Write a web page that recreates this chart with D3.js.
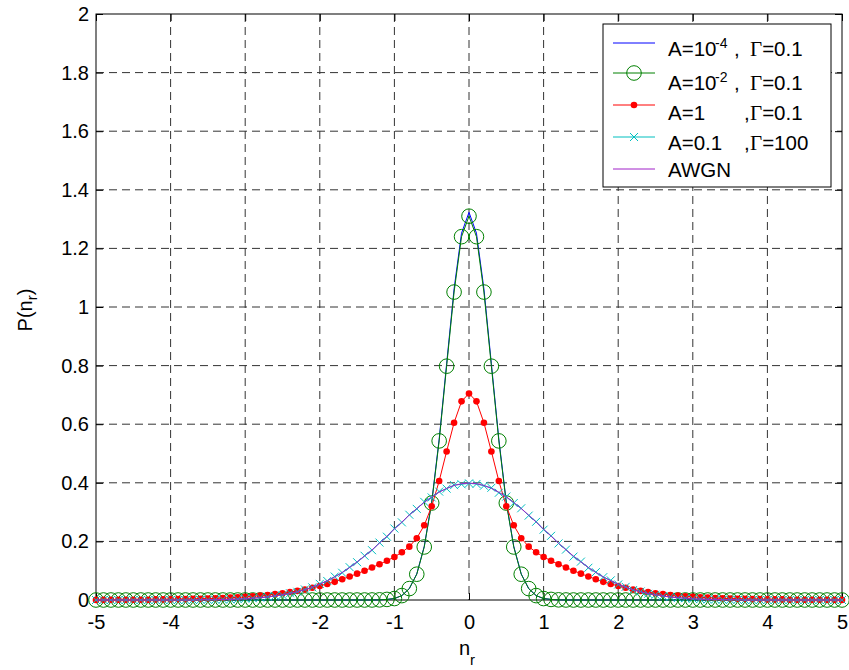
<!DOCTYPE html>
<html>
<head>
<meta charset="utf-8">
<script src="https://cdn.jsdelivr.net/npm/d3@7"></script>
<style>
  body { margin: 0; background: #fff; }
  svg { display: block; }
  text { font-family: "Liberation Sans", Arial, Helvetica, sans-serif; fill: #000; }
</style>
</head>
<body>
<svg id="chart" width="849" height="670"></svg>
<script>
// Sample positions n_r = -5 : 0.1 : 5
const nr = d3.range(-50, 51).map(i => i / 10);

// Middleton class-A noise pdf, A = 1e-4, Gamma = 0.1
const pdfA4 = [
  0,0,0,0,0,0,0,0,0,0,
  0,0,0,0,0,0,0,0,0,0,
  0,0,0,0,0,0,0,0,0,0,
  0,0,0,0,0,0,0,0.0001,0.0005,0.002,
  0.005,0.015,0.039,0.089,0.183,0.334,0.549,0.806,1.062,1.252,
  1.323,
  1.252,1.062,0.806,0.549,0.334,0.183,0.089,0.039,0.015,0.005,
  0.002,0.0005,0.0001,0,0,0,0,0,0,0,
  0,0,0,0,0,0,0,0,0,0,
  0,0,0,0,0,0,0,0,0,0,
  0,0,0,0,0,0,0,0,0,0
];

// A = 1e-2, Gamma = 0.1
const pdfA2 = [
  0,0,0,0,0,0,0,0,0,0,
  0,0,0,0,0,0,0,0,0,0,
  0,0,0,0,0,0,0,0,0,0,
  0,0,0,0,0,0,0,0.0001,0.0005,0.002,
  0.005,0.015,0.039,0.088,0.181,0.331,0.543,0.798,1.051,1.240,
  1.310,
  1.240,1.051,0.798,0.543,0.331,0.181,0.088,0.039,0.015,0.005,
  0.002,0.0005,0.0001,0,0,0,0,0,0,0,
  0,0,0,0,0,0,0,0,0,0,
  0,0,0,0,0,0,0,0,0,0,
  0,0,0,0,0,0,0,0,0,0
];

// A = 1, Gamma = 0.1
const pdfA1 = [
  0.0004,0.0005,0.001,0.001,0.001,0.001,0.001,0.001,0.002,0.002,
  0.002,0.003,0.003,0.004,0.004,0.005,0.006,0.007,0.008,0.009,
  0.011,0.013,0.015,0.017,0.020,0.023,0.027,0.031,0.036,0.042,
  0.048,0.055,0.062,0.071,0.080,0.090,0.100,0.111,0.122,0.134,
  0.147,0.163,0.182,0.211,0.255,0.320,0.406,0.507,0.605,0.678,
  0.705,
  0.678,0.605,0.507,0.406,0.320,0.255,0.211,0.182,0.163,0.147,
  0.134,0.122,0.111,0.100,0.090,0.080,0.071,0.062,0.055,0.048,
  0.042,0.036,0.031,0.027,0.023,0.020,0.017,0.015,0.013,0.011,
  0.009,0.008,0.007,0.006,0.005,0.004,0.004,0.003,0.003,0.002,
  0.002,0.002,0.001,0.001,0.001,0.001,0.001,0.001,0.0005,0.0004
];

// A = 0.1, Gamma = 100
const pdfG100 = [
  0,0,0,0,0,0,0,0,0,0,
  0,0,0,0,0.001,0.001,0.001,0.002,0.002,0.003,
  0.005,0.006,0.008,0.011,0.014,0.017,0.023,0.028,0.036,0.043,
  0.055,0.065,0.080,0.093,0.112,0.129,0.151,0.170,0.196,0.216,
  0.244,0.265,0.291,0.311,0.335,0.350,0.370,0.380,0.392,0.395,
  0.398,
  0.396,0.390,0.383,0.366,0.353,0.331,0.313,0.288,0.267,0.240,
  0.219,0.193,0.172,0.148,0.131,0.110,0.095,0.078,0.067,0.053,
  0.045,0.034,0.029,0.021,0.018,0.013,0.011,0.007,0.006,0.004,
  0.003,0.002,0.002,0.001,0.001,0.001,0,0,0,0,
  0,0,0,0,0,0,0,0,0,0
];

// Gaussian reference (AWGN)
const pdfAWGN = [
  0,0,0,0,0,0,0,0,0,0,
  0,0,0,0,0.001,0.001,0.001,0.002,0.002,0.003,
  0.004,0.006,0.008,0.010,0.014,0.018,0.022,0.028,0.035,0.044,
  0.054,0.066,0.079,0.094,0.111,0.130,0.150,0.171,0.194,0.218,
  0.242,0.266,0.290,0.312,0.333,0.352,0.368,0.381,0.391,0.397,
  0.399,
  0.397,0.391,0.381,0.368,0.352,0.333,0.312,0.290,0.266,0.242,
  0.218,0.194,0.171,0.150,0.130,0.111,0.094,0.079,0.066,0.054,
  0.044,0.035,0.028,0.022,0.018,0.014,0.010,0.008,0.006,0.004,
  0.003,0.002,0.002,0.001,0.001,0.001,0,0,0,0,
  0,0,0,0,0,0,0,0,0,0
];

const xTicks = [-5,-4,-3,-2,-1,0,1,2,3,4,5];
const xTickLabels = ["-5","-4","-3","-2","-1","0","1","2","3","4","5"];
const yTicks = [0,0.2,0.4,0.6,0.8,1,1.2,1.4,1.6,1.8,2];
const yTickLabels = ["0","0.2","0.4","0.6","0.8","1","1.2","1.4","1.6","1.8","2"];

const series = [
  { values: pdfA4,   color: "#0000ff", marker: null },
  { values: pdfA2,   color: "#008000", marker: "circle" },
  { values: pdfA1,   color: "#ff0000", marker: "dot" },
  { values: pdfG100, color: "#00bfbf", marker: "cross" },
  { values: pdfAWGN, color: "#a020c8", marker: null }
];

const svg = d3.select("#chart");
const box = { left: 96, right: 842, top: 14, bottom: 600 };

const x = d3.scaleLinear().domain([-5, 5]).range([box.left, box.right]);
const y = d3.scaleLinear().domain([0, 2]).range([box.bottom, box.top]);

// dashed grid
const grid = svg.append("g")
  .attr("stroke", "#333").attr("stroke-width", 1).attr("stroke-dasharray", "8,5");
grid.selectAll("line.gx").data(xTicks.slice(1, -1)).join("line")
  .attr("x1", d => x(d)).attr("x2", d => x(d))
  .attr("y1", box.top).attr("y2", box.bottom);
grid.selectAll("line.gy").data(yTicks.slice(1, -1)).join("line")
  .attr("x1", box.left).attr("x2", box.right)
  .attr("y1", d => y(d)).attr("y2", d => y(d));

// axes with inward ticks
function styleAxis(g) {
  g.select(".domain").remove();
  g.selectAll(".tick line").attr("stroke", "#000");
  g.selectAll(".tick text").attr("font-size", 20).attr("fill", "#000")
    .attr("font-family", "Liberation Sans, Arial, sans-serif");
}
svg.append("g").attr("transform", `translate(${box.left},0)`)
  .call(d3.axisLeft(y).tickValues(yTicks).tickSizeInner(-7).tickSizeOuter(0)
    .tickPadding(7).tickFormat((d, i) => yTickLabels[i]))
  .call(styleAxis);
svg.append("g").attr("transform", `translate(${box.right},0)`)
  .call(d3.axisRight(y).tickValues(yTicks).tickSizeInner(-7).tickSizeOuter(0).tickFormat(""))
  .call(styleAxis);
svg.append("g").attr("transform", `translate(0,${box.bottom})`)
  .call(d3.axisBottom(x).tickValues(xTicks).tickSizeInner(-7).tickSizeOuter(0)
    .tickPadding(15).tickFormat((d, i) => xTickLabels[i]))
  .call(styleAxis);
svg.append("g").attr("transform", `translate(0,${box.top})`)
  .call(d3.axisTop(x).tickValues(xTicks).tickSizeInner(-7).tickSizeOuter(0).tickFormat(""))
  .call(styleAxis);

svg.append("rect")
  .attr("x", box.left).attr("y", box.top)
  .attr("width", box.right - box.left).attr("height", box.bottom - box.top)
  .attr("fill", "none").attr("stroke", "#000").attr("stroke-width", 1);

// curves
const line = d3.line().x((d, i) => x(nr[i])).y(d => y(d));

function drawMarker(g, type, color, px, py) {
  if (type === "circle") {
    g.append("circle").attr("cx", px).attr("cy", py).attr("r", 7.3)
      .attr("fill", "none").attr("stroke", color).attr("stroke-width", 1);
  } else if (type === "dot") {
    g.append("circle").attr("cx", px).attr("cy", py).attr("r", 3.3).attr("fill", color);
  } else if (type === "cross") {
    const s = 4;
    g.append("path")
      .attr("d", `M${px - s},${py - s}L${px + s},${py + s}M${px - s},${py + s}L${px + s},${py - s}`)
      .attr("stroke", color).attr("stroke-width", 1).attr("fill", "none");
  }
}

series.forEach(s => {
  const g = svg.append("g");
  g.append("path").datum(s.values).attr("d", line)
    .attr("fill", "none").attr("stroke", s.color).attr("stroke-width", 1);
  if (s.marker) {
    s.values.forEach((v, i) => drawMarker(g, s.marker, s.color, x(nr[i]), y(v)));
  }
});

// axis labels
const xl = svg.append("text").attr("x", 467).attr("y", 655)
  .attr("text-anchor", "middle").attr("font-size", 20);
xl.append("tspan").text("n");
xl.append("tspan").attr("font-size", 15).attr("dy", 10).text("r");

const yl = svg.append("text").attr("transform", "translate(32,310) rotate(-90)")
  .attr("text-anchor", "middle").attr("font-size", 20);
yl.append("tspan").text("P(n");
yl.append("tspan").attr("font-size", 15).attr("dy", 5).text("r");
yl.append("tspan").attr("dy", -5).text(")");

// legend
const legend = svg.append("g");
legend.append("rect").attr("x", 603).attr("y", 24).attr("width", 228).attr("height", 163)
  .attr("fill", "#fff").attr("stroke", "#000").attr("stroke-width", 1);

const legendRows = [
  { ly: 43, ty: 56, main: "A=10", sup: "-4", commaX: 734, gammaX: 750, rest: "=0.1" },
  { ly: 73, ty: 90, main: "A=10", sup: "-2", commaX: 734, gammaX: 750, rest: "=0.1" },
  { ly: 105, ty: 119.5, main: "A=1", sup: null, commaX: 744, gammaX: 750, rest: "=0.1" },
  { ly: 137, ty: 149.5, main: "A=0.1", sup: null, commaX: 744, gammaX: 750, rest: "=100" },
  { ly: 169, ty: 176.5, main: "AWGN", sup: null, commaX: null, gammaX: null, rest: null }
];

legendRows.forEach((r, i) => {
  const s = series[i];
  legend.append("line").attr("x1", 613).attr("x2", 655).attr("y1", r.ly).attr("y2", r.ly)
    .attr("stroke", s.color).attr("stroke-width", 1);
  if (s.marker) drawMarker(legend, s.marker, s.color, 634, r.ly);
  const t = legend.append("text").attr("x", 668).attr("y", r.ty).attr("font-size", 20.5);
  t.append("tspan").text(r.main);
  if (r.sup) {
    t.append("tspan").attr("x", 715).attr("y", r.ty - 8).attr("font-size", 14).text(r.sup);
  }
  if (r.commaX !== null) {
    t.append("tspan").attr("x", r.commaX).attr("y", r.ty).text(",");
    t.append("tspan").attr("x", r.gammaX).attr("y", r.ty).attr("font-size", 21)
      .style("font-family", "'Liberation Serif', 'Times New Roman', serif").text("Γ");
    t.append("tspan").text(r.rest);
  }
});
</script>
</body>
</html>
